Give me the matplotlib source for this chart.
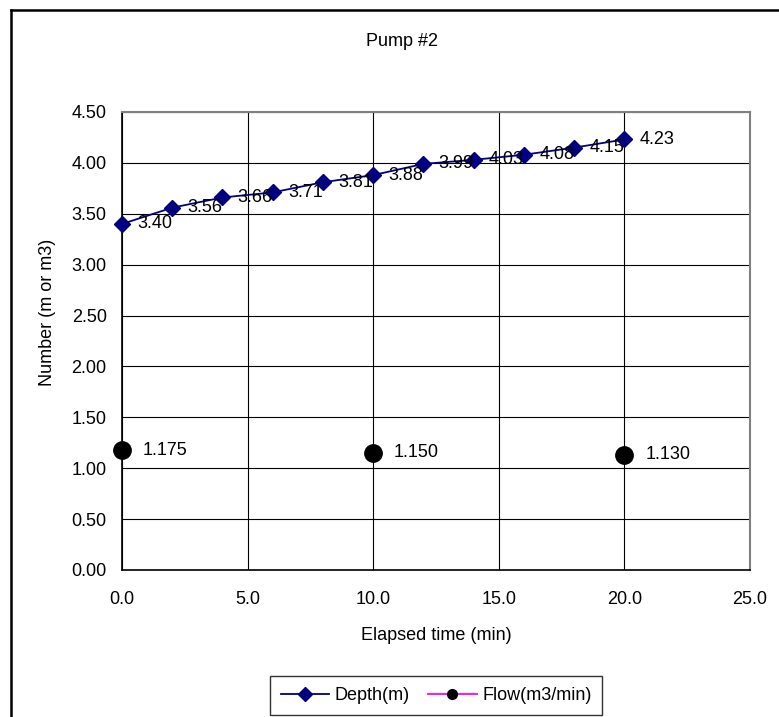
import matplotlib
matplotlib.use("Agg")
import matplotlib.pyplot as plt
from matplotlib.lines import Line2D
from matplotlib.ticker import FormatStrFormatter

plt.rcParams['font.family'] = ['Liberation Sans', 'DejaVu Sans']

# Depth readings every 2 minutes and flow readings every 10 minutes
depth_time = [0, 2, 4, 6, 8, 10, 12, 14, 16, 18, 20]
depth_m = [3.40, 3.56, 3.66, 3.71, 3.81, 3.88, 3.99, 4.03, 4.08, 4.15, 4.23]
flow_time = [0, 10, 20]
flow_m3min = [1.175, 1.150, 1.130]

x_ticks = [0, 5, 10, 15, 20, 25]
y_ticks = [0, 0.5, 1.0, 1.5, 2.0, 2.5, 3.0, 3.5, 4.0, 4.5]

W, H = 779, 717
fig = plt.figure(figsize=(W / 100, H / 100), dpi=100)
fig.patch.set_facecolor('white')

ax = fig.add_axes([122 / W, 1 - 570 / H, (750 - 122) / W, (570 - 112) / H])
ax.set_xlim(0, 25)
ax.set_ylim(0, 4.5)
ax.set_xticks(x_ticks)
ax.set_yticks(y_ticks)
ax.xaxis.set_major_formatter(FormatStrFormatter('%.1f'))
ax.yaxis.set_major_formatter(FormatStrFormatter('%.2f'))
ax.tick_params(axis='both', length=0, labelsize=13)
ax.tick_params(axis='x', pad=15)
ax.tick_params(axis='y', pad=11)
ax.grid(True, color='black', linewidth=0.8)
ax.set_axisbelow(True)
for side in ('top', 'right'):
    ax.spines[side].set_color('#808080')
    ax.spines[side].set_linewidth(1.5)
for side in ('left', 'bottom'):
    ax.spines[side].set_color('black')
    ax.spines[side].set_linewidth(1.2)

navy = '#000080'
ax.plot(depth_time, depth_m, color=navy, linewidth=1.3, marker='D',
        markersize=8, markerfacecolor=navy, markeredgecolor=navy,
        clip_on=False, zorder=3)
ax.plot(flow_time, flow_m3min, linestyle='none', marker='o', markersize=12.5,
        color='black', clip_on=False, zorder=3)

for x, y in zip(depth_time, depth_m):
    ax.annotate(f'{y:.2f}', (x, y), xytext=(11, 0), textcoords='offset points',
                ha='left', va='center', fontsize=13, zorder=4)
for x, y in zip(flow_time, flow_m3min):
    ax.annotate(f'{y:.3f}', (x, y), xytext=(15, 0), textcoords='offset points',
                ha='left', va='center', fontsize=13, zorder=4)

fig.text(402 / W, 1 - 42 / H, 'Pump #2', ha='center', va='center', fontsize=13)
fig.text(436 / W, 1 - 636 / H, 'Elapsed time (min)', ha='center', va='center',
         fontsize=13)
fig.text(48 / W, 1 - 312 / H, 'Number (m or m3)', ha='center', va='center',
         rotation=90, fontsize=13)

# Chart area border, running off the bottom and right edges
fig.add_artist(Line2D([11 / W, 11 / W], [1 - 10 / H, -0.05],
                      transform=fig.transFigure, color='black', linewidth=1.8))
fig.add_artist(Line2D([11 / W, 1.05], [1 - 10 / H, 1 - 10 / H],
                      transform=fig.transFigure, color='black', linewidth=1.8))

handles = [
    Line2D([], [], color=navy, linewidth=1.3, marker='D', markersize=7,
           markerfacecolor=navy, markeredgecolor=navy),
    Line2D([], [], color='#FF00FF', linewidth=1.3, marker='o', markersize=7,
           markerfacecolor='black', markeredgecolor='black'),
]
leg = fig.legend(handles, ['Depth(m)', 'Flow(m3/min)'], loc='center',
                 bbox_to_anchor=(436 / W, 1 - 695.5 / H), ncol=2, fontsize=13,
                 frameon=True, fancybox=False, handlelength=2.7,
                 handletextpad=0.3, columnspacing=1.0, borderpad=0.6,
                 borderaxespad=0)
leg.get_frame().set_edgecolor('black')
leg.get_frame().set_linewidth(1.0)

fig.savefig('out.png', dpi=100, facecolor='white')
